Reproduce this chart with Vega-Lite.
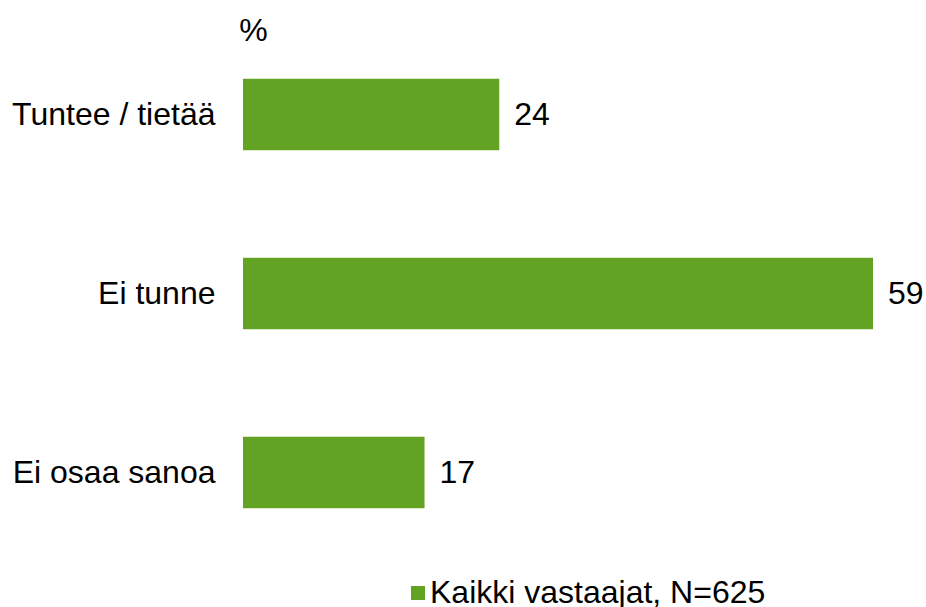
{
  "$schema": "https://vega.github.io/schema/vega-lite/v6.json",
  "autosize": "none",
  "width": 630,
  "height": 537,
  "padding": {"left": 243, "top": 25, "right": 53, "bottom": 45},
  "background": "white",
  "config": {"view": {"stroke": null}, "font": "Liberation Sans"},
  "data": {"values": [
    {"vastaus": "Tuntee / tietää", "arvo": 24, "ryhma": "Kaikki vastaajat, N=625"},
    {"vastaus": "Ei tunne", "arvo": 59, "ryhma": "Kaikki vastaajat, N=625"},
    {"vastaus": "Ei osaa sanoa", "arvo": 17, "ryhma": "Kaikki vastaajat, N=625"}
  ]},
  "encoding": {
    "y": {"field": "vastaus", "type": "nominal", "sort": null,
      "scale": {"paddingInner": 0.6, "paddingOuter": 0.3},
      "axis": {"title": "%", "titleAngle": 0, "titleX": 10, "titleY": 15, "titleAlign": "center", "titleBaseline": "alphabetic", "titleFontSize": 32, "titleFontWeight": "normal", "titleColor": "black", "titleFont": "Liberation Sans",
        "labelFontSize": 32, "labelColor": "black", "labelPadding": 28, "labelLimit": 0, "domain": false, "ticks": false, "labelFont": "Liberation Sans"}},
    "x": {"field": "arvo", "type": "quantitative", "scale": {"domain": [0, 59], "nice": false}, "axis": null}
  },
  "layer": [
    {"mark": {"type": "bar", "color": "#63A324"},
     "encoding": {"color": {"field": "ryhma", "type": "nominal", "scale": {"range": ["#63A324"]},
       "legend": {"title": null, "orient": "none", "legendX": 159, "legendY": 552, "symbolType": "square", "symbolSize": 196, "symbolStrokeWidth": 0, "labelFontSize": 32, "labelColor": "black", "labelFont": "Liberation Sans", "labelOffset": -4, "labelLimit": 0, "padding": 0}}}},
    {"mark": {"type": "text", "align": "left", "baseline": "middle", "dx": 15, "fontSize": 32, "color": "black", "font": "Liberation Sans"},
     "encoding": {"text": {"field": "arvo", "type": "quantitative"}}}
  ]
}
